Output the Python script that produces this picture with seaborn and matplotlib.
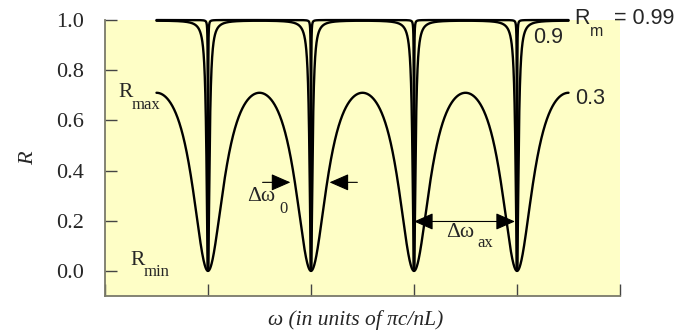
import numpy as np
import pandas as pd
import matplotlib
matplotlib.use("Agg")
import matplotlib.pyplot as plt
import seaborn as sns

# Mirror reflectivities of the Fabry-Perot cavity, one curve each
mirror_reflectivity = [0.99, 0.9, 0.3]
curve_labels = ["0.99", "0.9", "0.3"]

# Frequency span (units of pi c / nL): from one maximum to another
omega_start, omega_stop = 0.5, 4.5
y_ticks = [0.0, 0.2, 0.4, 0.6, 0.8, 1.0]
y_tick_labels = ["0.0", "0.2", "0.4", "0.6", "0.8", "1.0"]
x_ticks = [0, 1, 2, 3, 4, 5]

# Airy reflectance of a lossless symmetric cavity
omega = np.linspace(omega_start, omega_stop, 40001)
frames = []
for rm, lab in zip(mirror_reflectivity, curve_labels):
    coef_f = 4 * rm / (1 - rm) ** 2
    s2 = np.sin(np.pi * omega) ** 2
    refl = coef_f * s2 / (1 + coef_f * s2)
    frames.append(pd.DataFrame({"omega": omega, "R": refl, "Rm": lab}))
data = pd.concat(frames, ignore_index=True)

sns.set_style("ticks")
plt.rcParams["font.family"] = ["Liberation Serif", "DejaVu Serif"]

fig = plt.figure(figsize=(6.83, 3.34), dpi=100)
ax = fig.add_axes([0.1537, 0.1138, 0.7541, 0.8262])
ax.set_facecolor("#FEFEC6")

sns.lineplot(data=data, x="omega", y="R", hue="Rm",
             palette=["black"] * 3, legend=False, ax=ax,
             estimator=None, sort=False, linewidth=1.7)
for ln in ax.lines:
    ln.set_clip_on(False)

ax.set_xlim(0, 5)
ax.set_ylim(-0.1, 1.0)
ax.set_xticks(x_ticks)
ax.set_xticklabels([])
ax.set_yticks(y_ticks)
ax.set_yticklabels(y_tick_labels)

spine_col = "#7a7a6a"
for side in ("top", "right"):
    ax.spines[side].set_visible(False)
for side in ("left", "bottom"):
    ax.spines[side].set_color(spine_col)
    ax.spines[side].set_linewidth(1.3)
ax.tick_params(axis="both", direction="in", color="#444444", width=1.0,
               length=8.5, labelsize=16, pad=15)

ax.set_ylabel("R", fontsize=16, fontstyle="italic", va="center")
ax.yaxis.set_label_coords(-0.148, 0.5)
ax.set_xlabel("ω (in units of πc/nL)", fontsize=15.5, fontstyle="italic",
              va="top")
ax.xaxis.set_label_coords(0.487, -0.05)

serif = dict(fontsize=15.5, family=["Liberation Serif", "DejaVu Serif"],
             ha="center", va="center")
serif_sub = dict(fontsize=12, family=["Liberation Serif", "DejaVu Serif"],
                 ha="center", va="center")
sans = dict(fontsize=15.5, family=["Liberation Sans", "DejaVu Sans"],
            ha="center", va="center")
sans_sub = dict(fontsize=11.5, family=["Liberation Sans", "DejaVu Sans"],
                ha="center", va="center")

# R_max / R_min annotations
ax.text(0.205, 0.713, "R", **serif)
ax.text(0.40, 0.66, "max", **serif_sub)
ax.text(0.32, 0.043, "R", **serif)
ax.text(0.505, -0.005, "min", **serif_sub)

# Curve labels
ax.text(4.63, 1.005, "R", clip_on=False, **sans)
ax.text(4.77, 0.955, "m", clip_on=False, **sans_sub)
ax.text(5.23, 1.005, "= 0.99", clip_on=False, **sans)
ax.text(4.30, 0.93, "0.9", **sans)
ax.text(4.71, 0.688, "0.3", **sans)

# Linewidth arrows
arrow_kw = dict(arrowstyle="-|>,head_length=0.8,head_width=0.35",
                mutation_scale=15, color="black", lw=0.8,
                shrinkA=0, shrinkB=0)
ax.annotate("", xy=(1.80, 0.353), xytext=(1.53, 0.353), arrowprops=arrow_kw)
ax.annotate("", xy=(2.18, 0.353), xytext=(2.45, 0.353), arrowprops=arrow_kw)
ax.text(1.52, 0.297, "Δω", **serif)
ax.text(1.73, 0.245, "0", **serif_sub)

# Free spectral range arrow
ax.annotate("", xy=(3.0, 0.197), xytext=(3.98, 0.197),
            arrowprops=dict(arrowstyle="<|-|>,head_length=0.8,head_width=0.35",
                            mutation_scale=15, color="black", lw=0.8,
                            shrinkA=0, shrinkB=0))
ax.text(3.45, 0.153, "Δω", **serif)
ax.text(3.69, 0.112, "ax", **serif_sub)

fig.savefig("out.png", dpi=100)
